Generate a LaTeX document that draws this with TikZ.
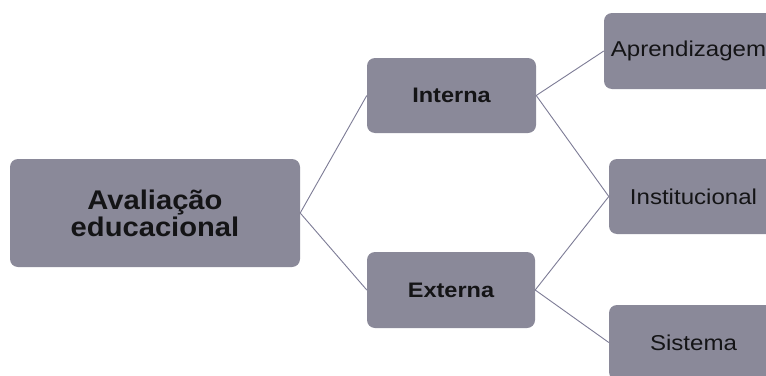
\documentclass[tikz,border=0pt]{standalone}
\usepackage{fontspec}
\newfontfamily\lab{Liberation Sans}[FakeStretch=1.12]
\newfontfamily\labbig{Liberation Sans}[FakeStretch=1.08]
\definecolor{boxfill}{RGB}{138,137,153}
\definecolor{linec}{RGB}{125,124,150}
\definecolor{txt}{RGB}{20,20,22}
\tikzset{
  box/.style={draw=none, fill=boxfill, rounded corners=8pt, inner sep=0pt, align=center, text=txt},
  bigtxt/.style={font=\labbig\fontsize{27}{27}\selectfont\bfseries},
  midtxt/.style={font=\lab\fontsize{21}{24}\selectfont\bfseries},
  smltxt/.style={font=\lab\fontsize{21.5}{24}\selectfont},
  conn/.style={draw=linec, line width=0.9pt}
}
\begin{document}
\begin{tikzpicture}[x=1pt,y=-1pt]
\path[use as bounding box, clip] (0,0) rectangle (766,375);
\fill[white] (0,0) rectangle (766,375);
\node[box, bigtxt, minimum width=290pt, minimum height=108pt] (main) at (155,213)
  {Avaliação\\educacional};
\node[box, midtxt, minimum width=169pt, minimum height=75pt] (int) at (451.5,95.5)
  {Interna};
\node[box, midtxt, minimum width=168pt, minimum height=76pt] (ext) at (451,290)
  {Externa};
\node[box, smltxt, minimum width=169pt, minimum height=76pt] (apr) at (688.5,51)
  {Aprendizagem};
\node[box, smltxt, minimum width=169pt, minimum height=75pt] (ins) at (693.5,196.5)
  {Institucional};
\node[box, smltxt, minimum width=169pt, minimum height=75pt] (sis) at (693.5,342.5)
  {Sistema};
\draw[conn] (main.east) -- (int.west);
\draw[conn] (main.east) -- (ext.west);
\draw[conn] (int.east) -- (apr.west);
\draw[conn] (int.east) -- (ins.west);
\draw[conn] (ext.east) -- (ins.west);
\draw[conn] (ext.east) -- (sis.west);
\end{tikzpicture}
\end{document}
